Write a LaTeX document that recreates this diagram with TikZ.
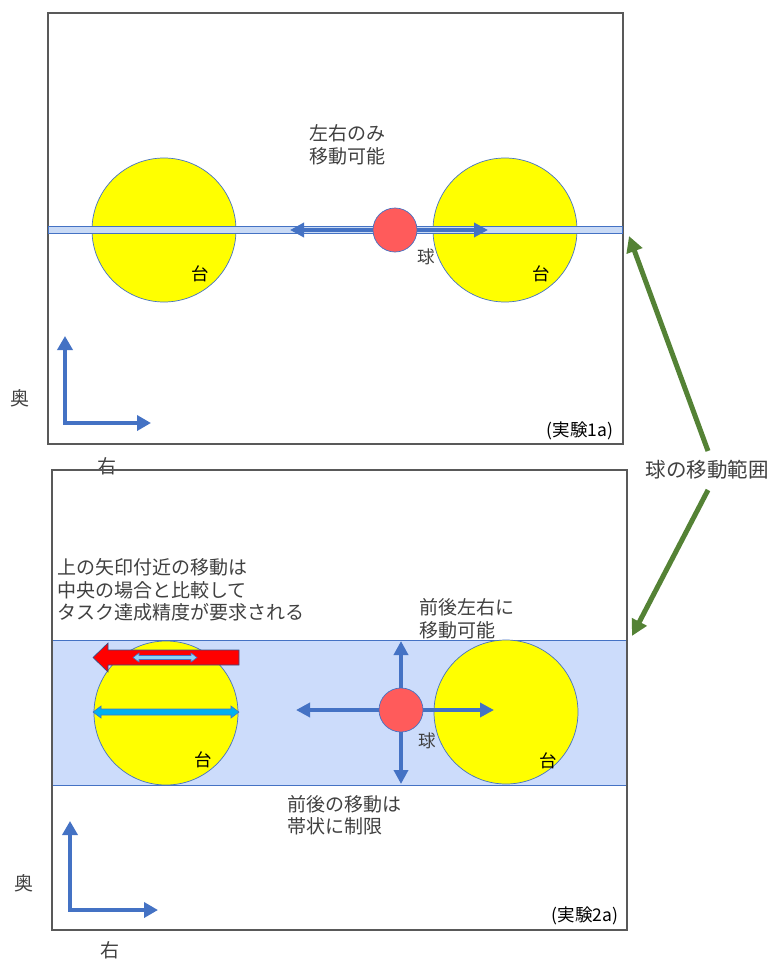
\documentclass[tikz,border=0pt]{standalone}
\usepackage{fontspec}
\setmainfont{Noto Sans CJK JP}
\usetikzlibrary{arrows.meta}
\definecolor{panelgray}{HTML}{595959}
\definecolor{myblue}{HTML}{4472C4}
\definecolor{mygreen}{HTML}{548235}
\definecolor{ballred}{HTML}{FF5B5B}
\definecolor{bandblue}{HTML}{CCDCFB}
\definecolor{tracklight}{HTML}{C9DAF5}
\definecolor{cyanarrow}{HTML}{00B0F0}
\definecolor{lightcyan}{HTML}{8FD3F5}
\definecolor{textgray}{HTML}{404040}
\definecolor{tableyellow}{HTML}{FFFF00}
\tikzset{
  panel/.style={draw=panelgray, line width=2.3pt},
  table/.style={circle, draw=myblue, line width=0.7pt, fill=tableyellow, minimum size=144pt, inner sep=0pt},
  ball/.style={circle, draw=myblue, line width=0.7pt, fill=ballred, minimum size=44pt, inner sep=0pt},
  blarrow/.style={draw=myblue, line width=4pt, -{Triangle[length=14pt,width=14pt]}},
  axisarrow/.style={draw=myblue, line width=4.5pt, {Triangle[length=14pt,width=15pt]}-{Triangle[length=14pt,width=15pt]}},
  grarrow/.style={draw=mygreen, line width=5pt, -{Triangle[length=16pt,width=16pt]}},
  lbl/.style={font=\fontsize{19}{22.5}\selectfont, text=textgray, inner sep=0pt, align=left},
  small/.style={font=\fontsize{17.5}{20}\selectfont, text=black, inner sep=0pt},
}
\begin{document}
\begin{tikzpicture}[x=1pt,y=-1pt]
\useasboundingbox (0,0) rectangle (773,960);

% ---------- top panel ----------
\draw[panel] (48,13) rectangle (623,444);
\node[table] (tL1) at (164,230) {};
\node[table] (tR1) at (505,230) {};
\draw[draw=myblue, line width=0.7pt, fill=tracklight] (48,226.5) rectangle (622,233.5);
\node[ball] (b1) at (395,230) {};
\coordinate (b1l) at (290,230);
\coordinate (b1r) at (488,230);
\draw[blarrow] (b1.west) -- (b1l);
\draw[blarrow] (b1.east) -- (b1r);
\node[lbl] (t1) at (309,145) [anchor=west] {左右のみ\\移動可能};
\node[small, text=textgray] (q1) at (426,257) {球};
\node[small] (d1a) at (200,274) {台};
\node[small] (d1b) at (541,274) {台};
\node[small] (ex1) at (580,431) {(実験1a)};
\coordinate (ax1o) at (65,423);
\coordinate (ax1u) at (65,336);
\coordinate (ax1r) at (151,423);
\draw[axisarrow] (ax1u) -- (ax1o) -- (ax1r);
\node[lbl] (ok1) at (20,398) {奥};
\node[lbl] (mi1) at (107,466) {右};

% ---------- green arrows ----------
\node[lbl, font=\fontsize{20.5}{23}\selectfont] (range) at (707,470) {球の移動範囲};
\coordinate (g1) at (629,236);
\coordinate (g2) at (632,636);
\draw[grarrow] (708,451) -- (g1);
\draw[grarrow] (708,490) -- (g2);

% ---------- bottom panel ----------
\fill[bandblue] (52,640) rectangle (626,785);
\draw[myblue, line width=0.7pt] (52,640) -- (626,640);
\draw[myblue, line width=0.7pt] (52,785) -- (626,785);
\draw[panel] (52,470) rectangle (627,930);
\node[table] (tL2) at (166,713) {};
\node[table] (tR2) at (506,712) {};
\node[ball] (b2) at (401,710) {};
\coordinate (b2u) at (401,641);
\coordinate (b2d) at (401,784);
\coordinate (b2l) at (296,710);
\coordinate (b2r) at (494,710);
\draw[blarrow] (b2.north) -- (b2u);
\draw[blarrow] (b2.south) -- (b2d);
\draw[blarrow] (b2.west) -- (b2l);
\draw[blarrow] (b2.east) -- (b2r);

% red block arrow
\draw[fill=red, draw=myblue!70!black, line width=0.6pt]
  (239,650) -- (108,650) -- (108,643) -- (93,657.5) -- (108,672) -- (108,665) -- (239,665) -- cycle;
% light double arrow inside
\draw[fill=lightcyan, draw=myblue, line width=0.6pt]
  (133,657.5) -- (139,653) -- (139,655.5) -- (191,655.5) -- (191,653) -- (197,657.5)
  -- (191,662) -- (191,659.5) -- (139,659.5) -- (139,662) -- cycle;
% cyan double arrow across table
\draw[fill=cyanarrow, draw=myblue, line width=0.6pt]
  (93,712) -- (101,706) -- (101,709) -- (231,709) -- (231,706) -- (239,712)
  -- (231,718) -- (231,715) -- (101,715) -- (101,718) -- cycle;

\node[lbl] (t2) at (57,590) [anchor=west] {上の矢印付近の移動は\\中央の場合と比較して\\タスク達成精度が要求される};
\node[lbl] (t3) at (419,619) [anchor=west] {前後左右に\\移動可能};
\node[lbl] (t4) at (287,815) [anchor=west] {前後の移動は\\帯状に制限};
\node[small, text=textgray] (q2) at (427,741) {球};
\node[small] (d2a) at (203,760) {台};
\node[small] (d2b) at (548,761) {台};
\node[small] (ex2) at (585,916) {(実験2a)};
\coordinate (ax2o) at (70,910);
\coordinate (ax2u) at (70,821);
\coordinate (ax2r) at (158,910);
\draw[axisarrow] (ax2u) -- (ax2o) -- (ax2r);
\node[lbl] (ok2) at (24,883) {奥};
\node[lbl] (mi2) at (110,950) {右};
\end{tikzpicture}
\end{document}
